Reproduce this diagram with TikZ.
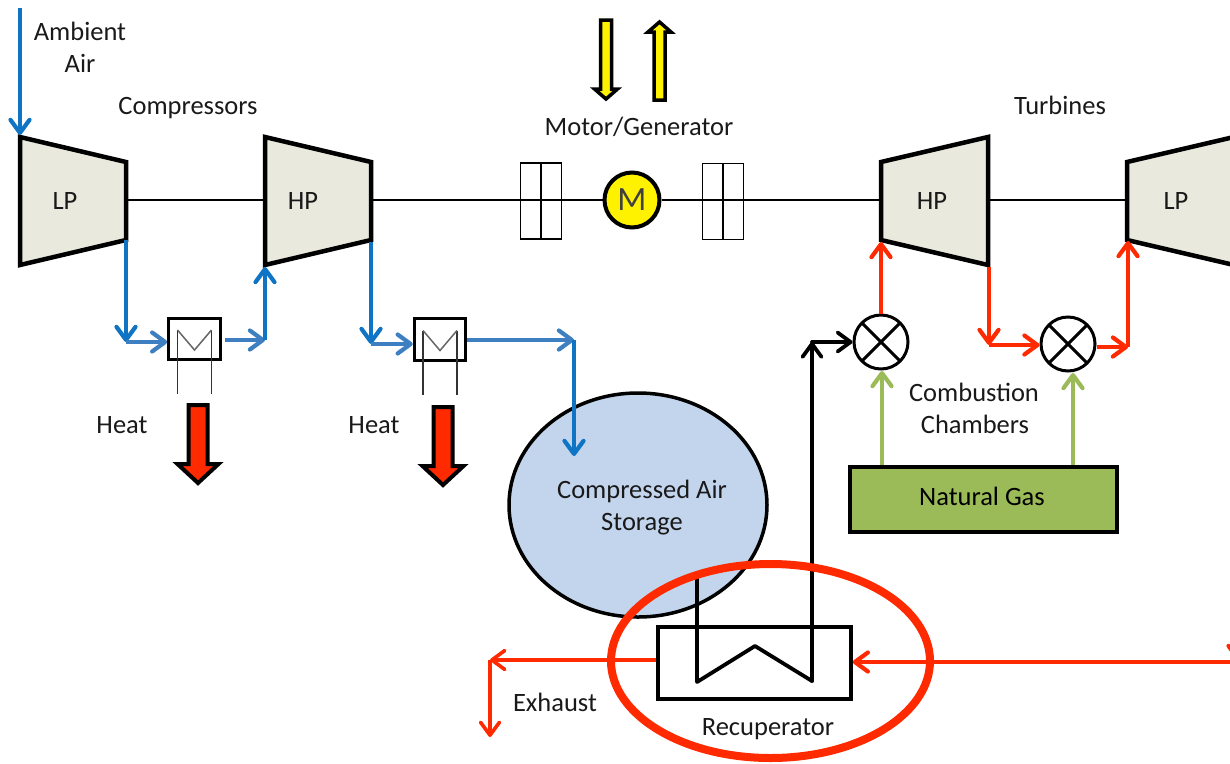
\documentclass[tikz,border=0pt]{standalone}
\usepackage{fontspec}
\setmainfont{Carlito}
\usetikzlibrary{positioning, calc, arrows.meta, shapes.geometric}

\definecolor{machine}{HTML}{E9E9DE}
\definecolor{airblue}{HTML}{0F74C4}
\definecolor{coolblue}{HTML}{3D7FC1}
\definecolor{hotred}{HTML}{FF2A00}
\definecolor{gasgreen}{HTML}{9BBB59}
\definecolor{storeblue}{HTML}{C3D5ED}

\tikzset{
  barb/.tip={Straight Barb[length=13pt, width=19pt, round]},
  label/.style={font=\fontsize{26.5}{26.5}\selectfont, text=black!90, inner sep=0pt},
  machinebody/.style={draw=black, fill=machine, line width=4.5pt, line join=miter},
  shaft/.style={draw=black, line width=1.5pt},
  airpipe/.style={-barb, draw=airblue, line width=4.2pt},
  coolpipe/.style={-barb, draw=coolblue, line width=4.2pt},
  hotpipe/.style={-barb, draw=hotred, line width=4.2pt},
  gaspipe/.style={-barb, draw=gasgreen, line width=4.2pt},
  blackpipe/.style={draw=black, line width=3.8pt, line cap=round, line join=round},
  cooler/.style={draw=black, line width=3pt, fill=white, minimum width=51.5pt, minimum height=41.5pt, inner sep=0pt},
  mixer/.style={circle, draw=black, line width=3pt, fill=white, minimum size=54pt, inner sep=0pt,
    path picture={
      \draw[line width=3pt] (path picture bounding box.north west) ++(8,8) -- ($(path picture bounding box.south east)+(-8,-8)$);
      \draw[line width=3pt] (path picture bounding box.north east) ++(-8,8) -- ($(path picture bounding box.south west)+(8,-8)$);
    }},
  coupling/.style={draw=black, line width=1.5pt, fill=white, minimum width=20.5pt, minimum height=76pt, inner sep=0pt},
  heatarrow/.style={draw=black, fill=hotred, line width=4pt, line join=miter},
  powerarrow/.style={draw=black, fill=yellow, line width=3.5pt, line join=miter},
}

\begin{document}
\begin{tikzpicture}[x=1pt, y=-1pt]
      \useasboundingbox (0,0) rectangle (1230,763);
      \clip (0,0) rectangle (1230,763);

      % machines
      \coordinate (lpc) at (20,137);
      \coordinate (hpc) at (265,137);
      \coordinate (hpt) at (988,137);
      \coordinate (lpt) at (1234,137);

      \draw[machinebody] (lpc) -- ++(106,25) -- ++(0,78) -- ++(-106,25) -- cycle;
      \draw[machinebody] (hpc) -- ++(106,25) -- ++(0,78) -- ++(-106,25) -- cycle;
      \draw[machinebody] (hpt) -- ++(-107,25) -- ++(0,78) -- ++(107,25) -- cycle;
      \draw[machinebody] (lpt) -- ++(-107,25) -- ++(0,78) -- ++(107,25) -- cycle;

      \node[label] (lpclabel) at (65,201) {LP};
      \node[label] (hpclabel) at (303,201) {HP};
      \node[label] (hptlabel) at (932,201) {HP};
      \node[label] (lptlabel) at (1176,201) {LP};

      % shaft
      \coordinate (lpcout) at (128,200);
      \coordinate (hpcin) at (263,200);
      \coordinate (hpcout) at (373,200);
      \coordinate (hptin) at (879,200);
      \coordinate (hptout) at (990,200);
      \coordinate (lptin) at (1125,200);

      \node[coupling] (cplaa) at (530.5,201) {};
      \node[coupling, right=-1.5pt of cplaa] (cplab) {};
      \node[coupling] (cplba) at (712.5,201.5) {};
      \node[coupling, right=-1.5pt of cplba] (cplbb) {};
      \node[circle, draw=black, fill=yellow, line width=4pt, minimum size=55pt, inner sep=0pt, font=\fontsize{34}{34}\selectfont, text=black!75] (motor) at (632,200) {M};

      \draw[shaft] (lpcout) -- (hpcin);
      \draw[shaft] (hpcout) -- (motor);
      \draw[shaft] (motor) -- (hptin);
      \draw[shaft] (hptout) -- (lptin);

      % motor arrows
      \coordinate (pwrin) at (606,20);
      \coordinate (pwrout) at (659.5,100);
      \draw[powerarrow] (pwrin) ++(-5.5,0) -- ++(11,0) -- ++(0,69) -- ++(6,0) -- ++(-11.5,10) -- ++(-11.5,-10) -- ++(6,0) -- cycle;
      \draw[powerarrow] (pwrout) ++(-5.5,0) -- ++(11,0) -- ++(0,-68) -- ++(6,0) -- ++(-11.5,-10) -- ++(-11.5,10) -- ++(6,0) -- cycle;

      % compressed air line
      \node[cooler] (clra) at (194.5,339) {};
      \node[cooler] (clrb) at (440,339.5) {};

      \foreach \clr in {clra, clrb} {
        \draw[line width=1.5pt, black!80] ($(\clr.center)+(-17,-9)$) -- ($(\clr.center)+(-17,55)$);
        \draw[line width=1.5pt, black!80] ($(\clr.center)+(17,-9)$) -- ($(\clr.center)+(17,55)$);
        \draw[line width=1.5pt, black!60] ($(\clr.center)+(-17,-9)$) -- ($(\clr.center)+(0,11)$) -- ($(\clr.center)+(17,-9)$);
      }

      \node[ellipse, draw=black, fill=storeblue, line width=3.5pt, minimum width=258pt, minimum height=224pt, inner sep=0pt] (store) at (638,505) {};

      \coordinate (airtop) at (20,8);
      \coordinate (lpcin) at (20,135);
      \coordinate (lpcexit) at (126,240);
      \coordinate (clrabend) at (126,342);
      \coordinate (clraout) at (265,340);
      \coordinate (hpcentry) at (265,267);
      \coordinate (hpcexit) at (371,242);
      \coordinate (clrbbend) at (371,344);
      \coordinate (storebend) at (574,340);
      \coordinate (storein) at (574,456);

      \draw[airpipe] (airtop) -- (lpcin);
      \draw[airpipe] (lpcexit) -- (clrabend);
      \draw[coolpipe] (clrabend) -- (clra.west |- clrabend);
      \draw[coolpipe] ($(clra.east)+(3,1)$) -- (clraout);
      \draw[airpipe] (clraout) -- (hpcentry);
      \draw[airpipe] (hpcexit) -- (clrbbend);
      \draw[coolpipe] (clrbbend) -- (clrb.west |- clrbbend);
      \draw[coolpipe] (clrb.east |- storebend) -- (storebend);
      \draw[airpipe] (storebend) -- (storein);

      % heat arrows
      \coordinate (heata) at (198,405);
      \coordinate (heatb) at (443,407);
      \foreach \ha in {heata, heatb} {
        \draw[heatarrow] (\ha) ++(-9.5,0) -- ++(19,0) -- ++(0,59) -- ++(11,0) -- ++(-20.5,19) -- ++(-20.5,-19) -- ++(11,0) -- cycle;
      }

      % combustion
      \node[mixer] (mixa) at (881,342) {};
      \node[mixer] (mixb) at (1068,344) {};
      \node[draw=black, fill=gasgreen, line width=4pt, minimum width=267pt, minimum height=65pt, inner sep=0pt] (gas) at (983.5,499) {};
      \node[label, text=black] (gaslabel) at (982,496) {Natural Gas};

      \coordinate (hptentry) at (881,242);
      \coordinate (hptexit) at (989,267);
      \coordinate (mixbbend) at (989,345);
      \coordinate (lptbend) at (1128,347);
      \coordinate (lptentry) at (1128,241);

      \draw[hotpipe] (mixa.north) -- (hptentry);
      \draw[hotpipe] (hptexit) -- (mixbbend);
      \draw[hotpipe] (mixbbend) -- (mixb.west |- mixbbend);
      \draw[hotpipe] (mixb.east |- lptbend) -- (lptbend);
      \draw[hotpipe] (lptbend) -- (lptentry);
      \draw[gaspipe] (gas.north -| 882,0) -- (882,371);
      \draw[gaspipe] (gas.north -| 1073,0) -- (1073,373);

      % recuperator
      \node[draw=black, line width=3.5pt, minimum width=193pt, minimum height=72pt, inner sep=0pt] (recup) at (754.5,663) {};

      \coordinate (pipein) at (697,575);
      \coordinate (pipebot) at (697,682);
      \coordinate (pipepeak) at (755,646);
      \coordinate (pipebotr) at (812,681);
      \coordinate (pipetop) at (812,342);

      \draw[blackpipe] (pipein) -- (pipebot) -- (pipepeak) -- (pipebotr);
      \draw[blackpipe, -barb] (pipebotr) -- (pipetop);
      \draw[blackpipe, -barb] (pipetop) -- (mixa.west);

      \coordinate (rightin) at (1230,662);
      \coordinate (rightdown) at (1238,620);
      \coordinate (rightend) at (1238,661);
      \coordinate (exhbend) at (490,660);
      \coordinate (exhend) at (490,737);

      \draw[hotpipe] (rightin) -- (recup.east |- rightin);
      \draw[hotpipe] (rightdown) -- (rightend);
      \draw[hotpipe, line width=3.6pt] (recup.west |- exhbend) -- (exhbend);
      \draw[hotpipe, line width=3.6pt] (exhbend) -- (exhend);

      \node[ellipse, draw=hotred, line width=8pt, minimum width=319pt, minimum height=194pt, inner sep=0pt] (focus) at (770.5,661) {};

      % labels
      \node[label] (ambient) at (80,31) {Ambient};
      \node[label] (air) at (80,63) {Air};
      \node[label] (compressors) at (188,108) {Compressors};
      \node[label] (motorgen) at (639,127) {Motor/Generator};
      \node[label] (turbines) at (1060,105) {Turbines};
      \node[label] (heatlaba) at (122,425) {Heat};
      \node[label] (heatlabb) at (374,425) {Heat};
      \node[label] (storelaba) at (642,491) {Compressed Air};
      \node[label] (storelabb) at (642,524) {Storage};
      \node[label] (comba) at (974,392) {Combustion};
      \node[label] (combb) at (975,424) {Chambers};
      \node[label] (exhaust) at (555,702) {Exhaust};
      \node[label] (recuplab) at (768,729) {Recuperator};
\end{tikzpicture}
\end{document}
